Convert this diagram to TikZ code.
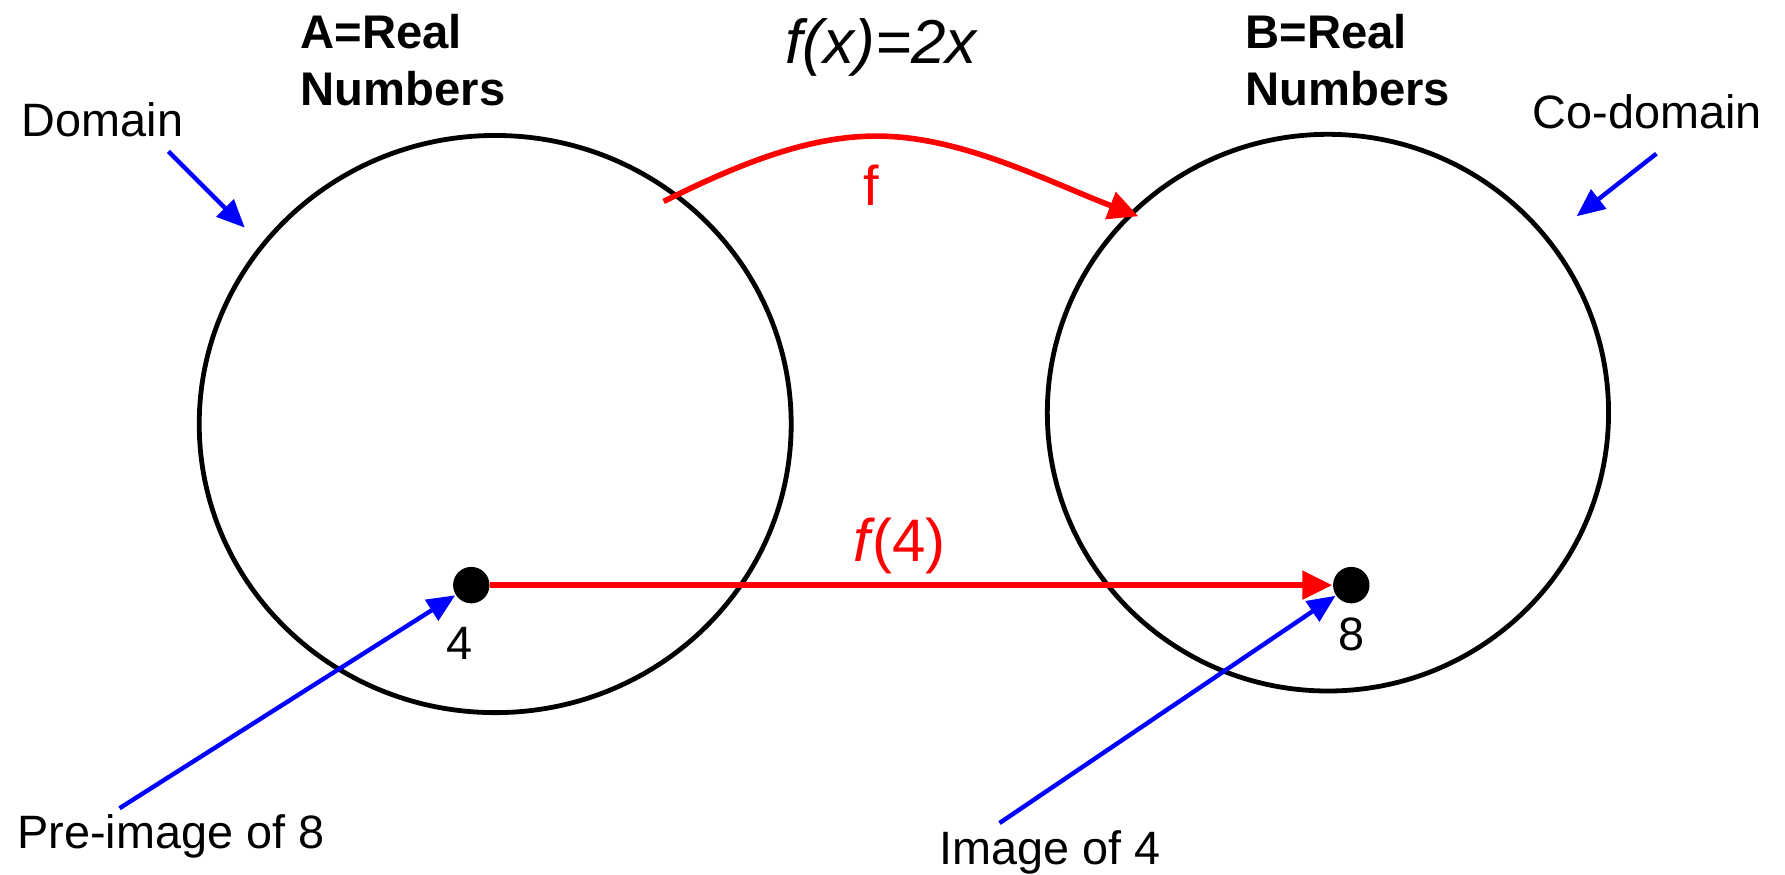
\documentclass[tikz,border=0pt]{standalone}
\usepackage{fontspec}
\setmainfont{Liberation Sans}
\usepackage{tikz}
\usetikzlibrary{positioning, shapes.geometric, arrows.meta}

\begin{document}
\begin{tikzpicture}[
  lbl/.style={font=\fontsize{11.7}{14.2}\selectfont},
  setlbl/.style={font=\fontsize{11.8}{14.2}\selectfont\bfseries, align=left},
  blobdot/.style={circle, fill=black, inner sep=0pt, minimum size=0.32cm},
  setring/.style={ellipse, draw=black, line width=1.2pt, inner sep=0pt},
  bluearrow/.style={-{Triangle[length=7pt,width=6pt]}, blue, line width=1.1pt},
  redarrow/.style={-{Triangle[length=7.5pt,width=7pt]}, red, line width=1.4pt}
]
\useasboundingbox (0,0) rectangle (15.68,7.68);

% Sets
\node[setring, minimum width=5.2cm, minimum height=5.07cm] (setA) at (4.35,3.955) {};
\node[setring, minimum width=4.93cm, minimum height=4.89cm] (setB) at (11.665,4.055) {};

% Set titles
\node[setlbl] (titleA) at (3.54,7.15) {A=Real\\Numbers};
\node[setlbl] (titleB) at (11.84,7.15) {B=Real\\Numbers};
\node[font=\fontsize{15.5}{18}\selectfont] (rule) at (7.75,7.26) {\textit{f(x)=2x}};

% Mapping f
\coordinate (fstart) at (5.83,5.91);
\coordinate (fend) at (10.00,5.78);
\draw[redarrow] (fstart) .. controls (6.9,6.45) and (7.5,6.55) .. (8.1,6.45)
  .. controls (8.7,6.35) and (9.3,6.05) .. (fend);
\node[red, font=\fontsize{14}{16}\selectfont] (flbl) at (7.65,6.05) {f};

% Elements
\node[blobdot] (dotA) at (4.14,2.54) {};
\node[blobdot] (dotB) at (11.87,2.54) {};
\node[lbl] (numA) at (4.04,2.03) {4};
\node[lbl] (numB) at (11.87,2.11) {8};
\draw[redarrow] (dotA) -- (dotB);
\node[red, font=\fontsize{15}{18}\selectfont] (f4) at (7.90,2.88) {\textit{f}\kern-0.05em(4)};

% Labels
\node[lbl] (domain) at (0.90,6.63) {Domain};
\node[lbl] (codomain) at (14.47,6.70) {Co-domain};
\node[lbl] (preimg) at (1.50,0.33) {Pre-image of 8};
\node[lbl] (img) at (9.22,0.19) {Image of 4};

\coordinate (domainS) at (1.48,6.35);
\coordinate (domainE) at (2.15,5.68);
\coordinate (codomainS) at (14.55,6.33);
\coordinate (codomainE) at (13.85,5.78);
\coordinate (preimgS) at (1.05,0.58);
\coordinate (imgS) at (8.78,0.45);

\draw[bluearrow] (domainS) -- (domainE);
\draw[bluearrow] (codomainS) -- (codomainE);
\draw[bluearrow] (preimgS) -- (dotA);
\draw[bluearrow] (imgS) -- (dotB);

\end{tikzpicture}
\end{document}
